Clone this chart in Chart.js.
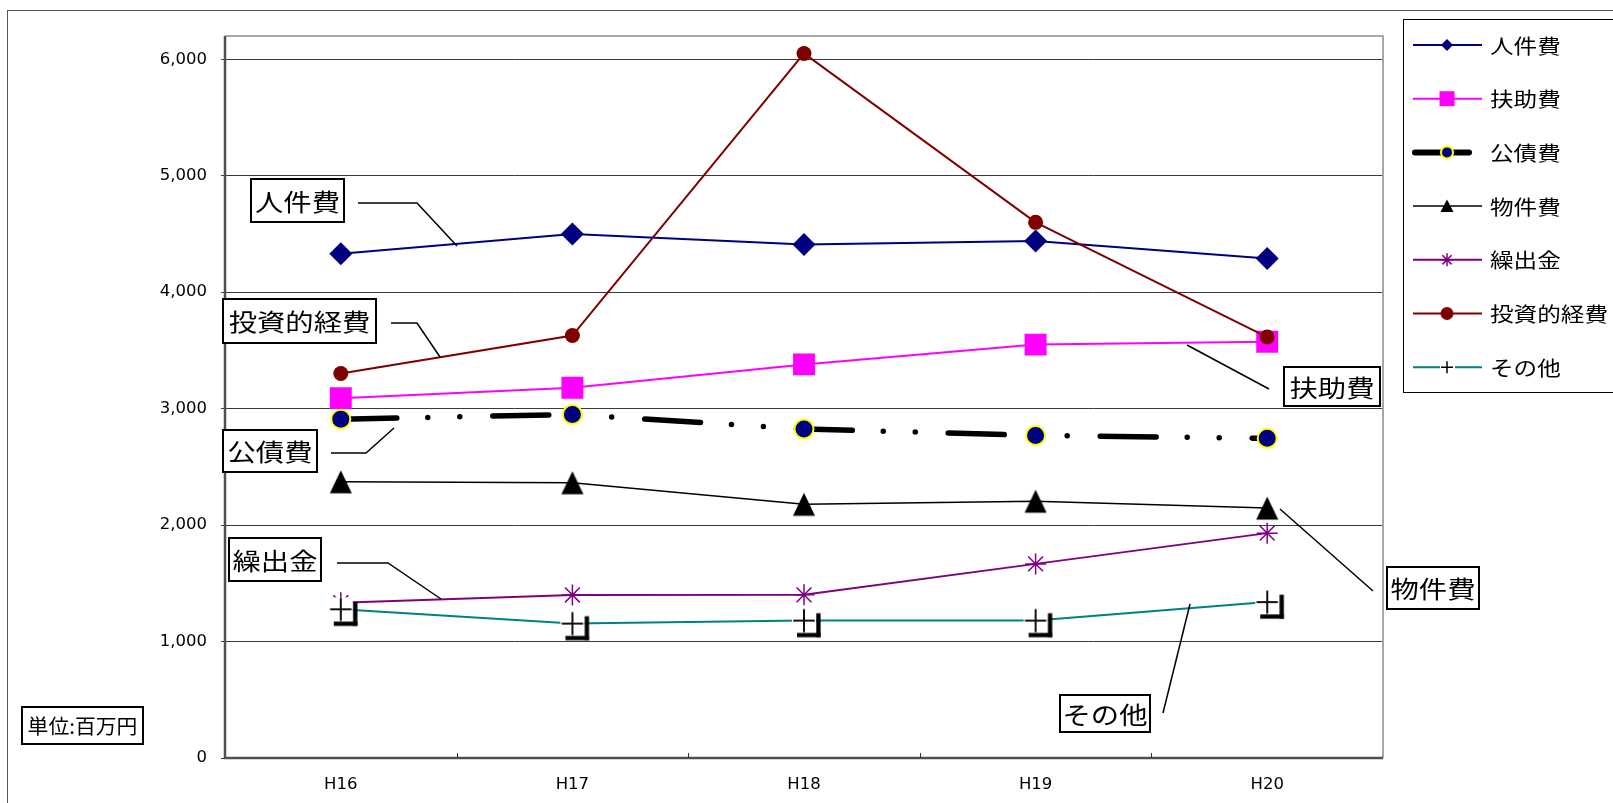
<!DOCTYPE html>
<html>
<head>
<meta charset="utf-8">
<script src="https://cdn.jsdelivr.net/npm/chart.js@4/dist/chart.umd.min.js"></script>
<style>
  html, body { margin: 0; padding: 0; background: #fff; }
  canvas { display: block; }
</style>
</head>
<body>
<canvas id="myChart" width="1613" height="803"></canvas>
<script>
// data (単位:百万円)
var categories = ['H16', 'H17', 'H18', 'H19', 'H20'];
var jinkenhi   = [4330, 4500, 4410, 4440, 4290];   // 人件費
var fujohi     = [3090, 3180, 3380, 3550, 3575];   // 扶助費
var kousaihi   = [2910, 2950, 2825, 2770, 2745];   // 公債費
var bukkenhi   = [2372, 2364, 2179, 2205, 2146];   // 物件費
var kuridashi  = [1333, 1400, 1401, 1667, 1931];   // 繰出金
var toushi     = [3302, 3628, 6050, 4600, 3615];   // 投資的経費
var sonota     = [1277, 1154, 1180, 1180, 1339];   // その他
var seriesNames = ['人件費', '扶助費', '公債費', '物件費', '繰出金', '投資的経費', 'その他'];
var yTickValues = [0, 1000, 2000, 3000, 4000, 5000, 6000];
var unitLabel = '単位:百万円';

var CJK = '"Noto Sans CJK JP", "Noto Sans CJK SC", sans-serif';

// marker images for the two odd Excel markers
function makeTriangle() {
    var c = document.createElement('canvas');
    c.width = 26; c.height = 26;
    var g = c.getContext('2d');
    g.fillStyle = '#000';
    g.beginPath();
    g.moveTo(13, 1.5);
    g.lineTo(24, 24.5);
    g.lineTo(2, 24.5);
    g.closePath();
    g.fill();
    return c;
}
function makePlus() {
    var c = document.createElement('canvas');
    c.width = 48; c.height = 48;
    var g = c.getContext('2d');
    g.fillStyle = '#fff';
    g.fillRect(12, 12, 24, 24);
    g.strokeStyle = '#111';
    g.lineWidth = 2;
    g.beginPath();
    g.moveTo(13.3, 24); g.lineTo(34.7, 24);
    g.moveTo(24, 12.5); g.lineTo(24, 35.5);
    g.stroke();
    g.fillStyle = '#000';
    g.fillRect(36.3, 16.6, 4.3, 24);
    g.fillRect(17, 36.3, 23.6, 4.3);
    return c;
}
var triangleImg = makeTriangle();
var plusImg = makePlus();

function drawScaledText(ctx, text, x, y, size, sx, align) {
    ctx.save();
    ctx.font = size + 'px ' + CJK;
    ctx.textBaseline = 'middle';
    ctx.textAlign = 'left';
    var w = ctx.measureText(text).width * sx;
    var x0 = align === 'center' ? x - w / 2 : x;
    ctx.translate(x0, y);
    ctx.scale(sx, 1);
    ctx.fillStyle = '#000';
    ctx.fillText(text, 0, 0);
    ctx.restore();
}

// callout boxes with leader lines (pixel layout)
var callouts = [
    { text: '人件費',     box: [251, 179, 344, 222], line: [[358, 203], [417, 203], [457, 246]] },
    { text: '投資的経費', box: [223, 299, 376, 343], line: [[391, 323], [417, 323], [440, 357]] },
    { text: '公債費',     box: [223, 430, 317, 472], line: [[331, 453], [366, 453], [394, 428]] },
    { text: '繰出金',     box: [229, 538, 321, 581], line: [[337, 563], [388, 563], [441, 599]] },
    { text: '扶助費',     box: [1284, 367, 1380, 406], line: [[1187, 345], [1269, 389]] },
    { text: '物件費',     box: [1387, 567, 1479, 609], line: [[1280, 509], [1373, 591]] },
    { text: 'その他',     box: [1060, 695, 1150, 732], line: [[1163, 713], [1190, 604]] }
];

var legendRadius = [6, 10.6, 6, 0, 6.5, 6.5, 0];

var decorations = {
    id: 'decorations',
    beforeDraw: function(chart) {
        var ctx = chart.ctx;
        ctx.save();
        ctx.fillStyle = '#fff';
        ctx.fillRect(0, 0, chart.width, chart.height);
        ctx.restore();
    },
    afterDatasetsDraw: function(chart) {
        var ctx = chart.ctx;
        var a = chart.chartArea;
        var xs = chart.scales.x;
        ctx.save();
        // plot area frame
        ctx.lineWidth = 2;
        ctx.strokeStyle = '#a8a8a8';
        ctx.beginPath();
        ctx.moveTo(a.left, a.top); ctx.lineTo(a.right, a.top); ctx.lineTo(a.right, a.bottom);
        ctx.stroke();
        ctx.lineWidth = 2.5;
        ctx.strokeStyle = '#505050';
        ctx.beginPath();
        ctx.moveTo(a.left, a.top); ctx.lineTo(a.left, a.bottom); ctx.lineTo(a.right, a.bottom);
        ctx.stroke();
        // inward category ticks
        ctx.lineWidth = 1;
        ctx.strokeStyle = '#333';
        ctx.beginPath();
        for (var i = 1; i < categories.length; i++) {
            var bx = Math.round(xs.getPixelForValue(i - 0.5)) + 0.5;
            ctx.moveTo(bx, a.bottom); ctx.lineTo(bx, a.bottom - 5);
        }
        ctx.stroke();

        // callouts
        callouts.forEach(function(c) {
            ctx.strokeStyle = '#000';
            ctx.lineWidth = 1.5;
            ctx.beginPath();
            ctx.moveTo(c.line[0][0], c.line[0][1]);
            for (var k = 1; k < c.line.length; k++) ctx.lineTo(c.line[k][0], c.line[k][1]);
            ctx.stroke();
            var b = c.box;
            ctx.fillStyle = '#fff';
            ctx.fillRect(b[0], b[1], b[2] - b[0], b[3] - b[1]);
            ctx.lineWidth = 2;
            ctx.strokeRect(b[0], b[1], b[2] - b[0], b[3] - b[1]);
            drawScaledText(ctx, c.text, (b[0] + b[2]) / 2, (b[1] + b[3]) / 2 + 1, 24, 1.18, 'center');
        });
        ctx.restore();
    },
    afterDraw: function(chart) {
        var ctx = chart.ctx;
        ctx.save();
        // outer chart border
        ctx.strokeStyle = '#555';
        ctx.lineWidth = 1;
        ctx.strokeRect(7.5, 10.5, 2000, 2000);

        // unit box
        ctx.lineWidth = 2;
        ctx.strokeStyle = '#000';
        ctx.fillStyle = '#fff';
        ctx.fillRect(22, 707, 121, 37);
        ctx.strokeRect(22, 707, 121, 37);
        drawScaledText(ctx, unitLabel, 82.5, 726, 20, 1.04, 'center');

        // legend
        ctx.lineWidth = 1;
        ctx.strokeStyle = '#000';
        ctx.fillStyle = '#fff';
        ctx.fillRect(1403.5, 19.5, 300, 373);
        ctx.strokeRect(1403.5, 19.5, 300, 373);
        chart.data.datasets.forEach(function(ds, i) {
            var y = 45 + i * 53.7;
            var mx = 1447;
            ctx.save();
            ctx.strokeStyle = ds.borderColor;
            if (i === 2) {
                ctx.lineWidth = 6;
                ctx.lineCap = 'round';
                ctx.beginPath(); ctx.moveTo(1415, y); ctx.lineTo(1469, y); ctx.stroke();
            } else if (i === 6) {
                ctx.lineWidth = 2;
                ctx.beginPath();
                ctx.moveTo(1413, y); ctx.lineTo(1440, y);
                ctx.moveTo(1455, y); ctx.lineTo(1482, y);
                ctx.stroke();
            } else {
                ctx.lineWidth = ds.borderWidth;
                ctx.beginPath(); ctx.moveTo(1413, y); ctx.lineTo(1482, y); ctx.stroke();
            }
            ctx.restore();
            ctx.save();
            if (i === 3) {
                ctx.fillStyle = '#000';
                ctx.beginPath();
                ctx.moveTo(mx, y - 6.5); ctx.lineTo(mx + 6.5, y + 6); ctx.lineTo(mx - 6.5, y + 6);
                ctx.closePath(); ctx.fill();
            } else if (i === 6) {
                ctx.strokeStyle = '#000';
                ctx.lineWidth = 1.5;
                ctx.beginPath();
                ctx.moveTo(mx - 6, y); ctx.lineTo(mx + 6, y);
                ctx.moveTo(mx, y - 6); ctx.lineTo(mx, y + 6);
                ctx.stroke();
            } else {
                ctx.fillStyle = ds.pointBackgroundColor;
                ctx.strokeStyle = ds.pointBorderColor;
                ctx.lineWidth = ds.pointBorderWidth;
                Chart.helpers.drawPoint(ctx, {
                    pointStyle: ds.pointStyle,
                    rotation: 0,
                    radius: legendRadius[i],
                    borderWidth: ds.pointBorderWidth
                }, mx, y);
            }
            ctx.restore();
            drawScaledText(ctx, ds.label, 1490, y + 1, 20, 1.18, 'left');
        });
        ctx.restore();
    }
};

var ctx = document.getElementById('myChart').getContext('2d');
new Chart(ctx, {
    type: 'line',
    data: {
        labels: categories,
        datasets: [
            {
                label: seriesNames[0], data: jinkenhi,
                borderColor: '#000080', backgroundColor: '#000080', borderWidth: 2,
                pointStyle: 'rectRot', pointRadius: 11.5,
                pointBackgroundColor: '#000080', pointBorderColor: '#000080', pointBorderWidth: 0,
                order: 0
            },
            {
                label: seriesNames[1], data: fujohi,
                borderColor: '#FF00FF', backgroundColor: '#FF00FF', borderWidth: 2,
                pointStyle: 'rect', pointRadius: 15.5,
                pointBackgroundColor: '#FF00FF', pointBorderColor: '#FF00FF', pointBorderWidth: 0,
                order: -1
            },
            {
                label: seriesNames[2], data: kousaihi,
                borderColor: '#000', backgroundColor: '#000', borderWidth: 5.5,
                borderDash: [56, 31, 0, 32, 0, 33], borderCapStyle: 'round', borderJoinStyle: 'round',
                pointStyle: 'circle', pointRadius: 9.5,
                pointBackgroundColor: '#000080', pointBorderColor: '#FFFF00', pointBorderWidth: 2,
                order: -2
            },
            {
                label: seriesNames[3], data: bukkenhi,
                borderColor: '#000', backgroundColor: '#000', borderWidth: 1.5,
                pointStyle: triangleImg, pointRadius: 12,
                pointBackgroundColor: '#000', pointBorderColor: '#000', pointBorderWidth: 0,
                order: -3
            },
            {
                label: seriesNames[4], data: kuridashi,
                borderColor: '#800080', backgroundColor: '#800080', borderWidth: 2,
                pointStyle: 'star', pointRadius: 10.5,
                pointBackgroundColor: '#800080', pointBorderColor: '#800080', pointBorderWidth: 1.5,
                order: -4
            },
            {
                label: seriesNames[5], data: toushi,
                borderColor: '#800000', backgroundColor: '#800000', borderWidth: 2,
                pointStyle: 'circle', pointRadius: 7.5,
                pointBackgroundColor: '#800000', pointBorderColor: '#800000', pointBorderWidth: 0,
                order: -5
            },
            {
                label: seriesNames[6], data: sonota,
                borderColor: '#008080', backgroundColor: '#008080', borderWidth: 2,
                pointStyle: plusImg, pointRadius: 12,
                pointBackgroundColor: '#000', pointBorderColor: '#000', pointBorderWidth: 0,
                order: -6
            }
        ]
    },
    options: {
        responsive: false,
        animation: false,
        layout: { padding: { left: 0, top: 36, right: 230, bottom: 0 } },
        scales: {
            x: {
                offset: true,
                grid: { display: false, drawTicks: false },
                border: { display: false },
                ticks: {
                    color: '#000',
                    padding: 17,
                    font: { family: '"DejaVu Sans", sans-serif', size: 16.5 }
                },
                afterFit: function(scale) { scale.height = 45; }
            },
            y: {
                min: 0,
                max: 6200,
                grid: { color: '#3a3a3a', lineWidth: 1, tickLength: 4 },
                border: { display: false },
                afterBuildTicks: function(scale) {
                    scale.ticks = yTickValues.map(function(v) { return { value: v }; });
                },
                ticks: {
                    color: '#000',
                    padding: 14,
                    font: { family: '"DejaVu Sans", sans-serif', size: 16.5 },
                    callback: function(v) { return v.toLocaleString('en-US'); }
                },
                afterFit: function(scale) { scale.width = 225; }
            }
        },
        plugins: {
            legend: { display: false },
            tooltip: { enabled: false }
        }
    },
    plugins: [decorations]
});
</script>
</body>
</html>
